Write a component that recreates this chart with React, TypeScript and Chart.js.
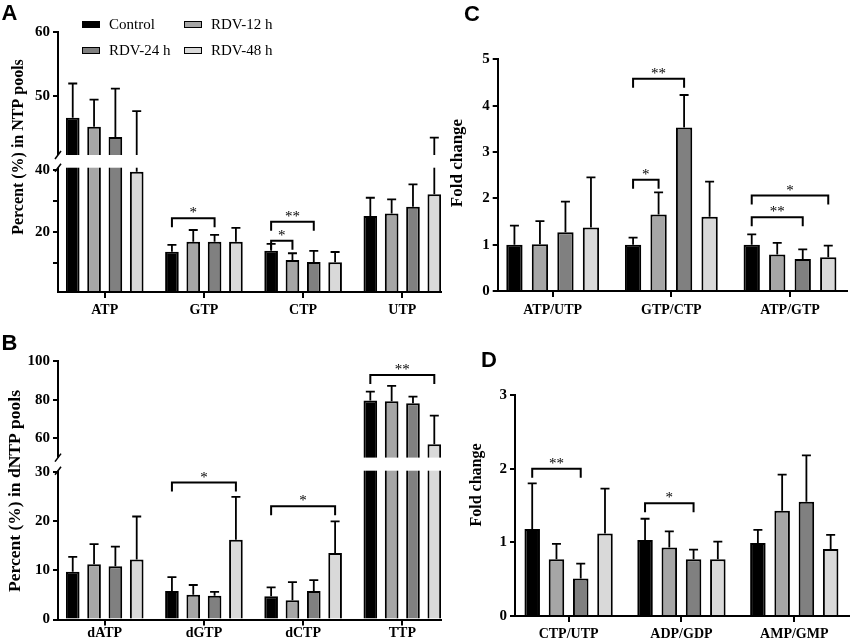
import { useEffect, useRef } from "react"
import { Chart, LinearScale, registerables } from "chart.js"

Chart.register(...registerables)

// Prism-style broken y axis: values below `low` use the lower segment,
// values above `high` the upper one, with a blank gap (px) between them
class BrokenScale extends LinearScale {
  static id = "broken"
  static defaults = LinearScale.defaults

  segs() {
    const b = (this.options as any).brk
    const usable = this.bottom - this.top - b.gap
    const lowPx = usable * b.lowFrac
    return { b, lowPx, highPx: usable - lowPx }
  }

  getPixelForValue(value: number) {
    if (value === null || value === undefined) return NaN
    const { b, lowPx, highPx } = this.segs()
    if (value <= b.low) return this.bottom - ((value - this.min) / (b.low - this.min)) * lowPx
    if (value >= b.high) return this.top + ((this.max - value) / (this.max - b.high)) * highPx
    const gapTop = this.top + highPx
    return gapTop + ((b.high - value) / (b.high - b.low)) * b.gap
  }

  getValueForPixel(pixel: number) {
    const { b, lowPx, highPx } = this.segs()
    const gapTop = this.top + highPx
    if (pixel <= gapTop) return this.max - ((pixel - this.top) / highPx) * (this.max - b.high)
    if (pixel >= this.bottom - lowPx) return this.min + ((this.bottom - pixel) / lowPx) * (b.low - this.min)
    return b.high - ((pixel - gapTop) / b.gap) * (b.high - b.low)
  }
}
Chart.register(BrokenScale)

const SERIF = '"Liberation Serif", "Times New Roman", serif'
Chart.defaults.font.family = SERIF
Chart.defaults.color = "#000"

const SERIES_NAMES = ["Control", "RDV-12 h", "RDV-24 h", "RDV-48 h"]
const SERIES_COLORS = ["#000000", "#a6a6a6", "#808080", "#d9d9d9"]

type Bracket = { cat: number; from: number; to: number; y: number; label: string }

// A - NTP pools (%)
const ntpLabels = ["ATP", "GTP", "CTP", "UTP"]
const ntpControl = [46.7, 13.7, 14.0, 25.2]
const ntp12h = [45.3, 16.9, 11.0, 26.0]
const ntp24h = [43.7, 16.9, 10.4, 28.2]
const ntp48h = [39.5, 16.9, 10.3, 32.2]
const ntpControlSd = [5.3, 2.2, 2.2, 5.9]
const ntp12hSd = [4.2, 3.8, 2.2, 4.6]
const ntp24hSd = [7.5, 2.2, 3.6, 7.2]
const ntp48hSd = [8.2, 4.5, 3.3, 11.4]
const ntpTicks = [10, 20, 30, 40, 50, 60]
const ntpTickLabels = ["", "20", "", "40", "50", "60"]
const ntpSig: Bracket[] = [
  { cat: 1, from: 0, to: 2, y: 24.5, label: "*" },
  { cat: 2, from: 0, to: 2, y: 23.4, label: "**" },
  { cat: 2, from: 0, to: 1, y: 17.2, label: "*" },
]

// B - dNTP pools (%)
const dntpLabels = ["dATP", "dGTP", "dCTP", "TTP"]
const dntpControl = [9.7, 5.8, 4.7, 79.5]
const dntp12h = [11.2, 5.0, 3.9, 79.1]
const dntp24h = [10.8, 4.8, 5.8, 78.1]
const dntp48h = [12.2, 16.2, 13.5, 56.9]
const dntpControlSd = [3.0, 2.8, 1.8, 4.6]
const dntp12hSd = [4.1, 2.0, 3.7, 8.0]
const dntp24hSd = [4.0, 0.8, 2.2, 3.5]
const dntp48hSd = [8.7, 8.7, 6.4, 14.8]
const dntpTicks = [0, 10, 20, 30, 60, 80, 100]
const dntpTickLabels = ["0", "10", "20", "30", "60", "80", "100"]
const dntpSig: Bracket[] = [
  { cat: 1, from: 0, to: 3, y: 27.8, label: "*" },
  { cat: 2, from: 0, to: 3, y: 23.0, label: "*" },
  { cat: 3, from: 0, to: 3, y: 92.8, label: "**" },
]

// C - NTP ratios (fold change)
const ratioCLabels = ["ATP/UTP", "GTP/CTP", "ATP/GTP"]
const ratioCControl = [1.0, 1.0, 1.0]
const ratioC12h = [1.01, 1.65, 0.79]
const ratioC24h = [1.27, 3.53, 0.69]
const ratioC48h = [1.37, 1.6, 0.73]
const ratioCControlSd = [0.41, 0.15, 0.22]
const ratioC12hSd = [0.5, 0.48, 0.25]
const ratioC24hSd = [0.66, 0.7, 0.21]
const ratioC48hSd = [1.08, 0.76, 0.25]
const ratioCTicks = [0, 1, 2, 3, 4, 5]
const ratioCTickLabels = ["0", "1", "2", "3", "4", "5"]
const ratioCSig: Bracket[] = [
  { cat: 1, from: 0, to: 2, y: 4.58, label: "**" },
  { cat: 1, from: 0, to: 1, y: 2.4, label: "*" },
  { cat: 2, from: 0, to: 3, y: 2.06, label: "*" },
  { cat: 2, from: 0, to: 2, y: 1.59, label: "**" },
]

// D - other ratios (fold change)
const ratioDLabels = ["CTP/UTP", "ADP/GDP", "AMP/GMP"]
const ratioDControl = [1.18, 1.03, 0.99]
const ratioD12h = [0.77, 0.93, 1.43]
const ratioD24h = [0.51, 0.77, 1.55]
const ratioD48h = [1.12, 0.77, 0.91]
const ratioDControlSd = [0.62, 0.29, 0.18]
const ratioD12hSd = [0.21, 0.22, 0.49]
const ratioD24hSd = [0.2, 0.13, 0.63]
const ratioD48hSd = [0.61, 0.24, 0.19]
const ratioDTicks = [0, 1, 2, 3]
const ratioDTickLabels = ["0", "1", "2", "3"]
const ratioDSig: Bracket[] = [
  { cat: 0, from: 0, to: 2, y: 2.0, label: "**" },
  { cat: 1, from: 0, to: 2, y: 1.53, label: "*" },
]

type PanelProps = {
  box: { left: number; top: number; width: number; height: number }
  pad: { top: number; right: number }
  yWidth: number
  xHeight: number
  xPad: number
  titleAt: { x: number; y: number; size: number }
  labels: string[]
  values: number[][]
  sds: number[][]
  xRange: [number, number]
  yRange: [number, number]
  yTicks: number[]
  yTickLabels: string[]
  yTitle: string
  brackets: Bracket[]
  brk?: { low: number; high: number; gap: number; lowFrac: number }
}

function BarPanel(p: PanelProps) {
  const canvasRef = useRef<HTMLCanvasElement>(null)
  const chartInstance = useRef<Chart | null>(null)

  useEffect(() => {
    if (!canvasRef.current) return
    if (chartInstance.current) chartInstance.current.destroy()

    // error bars (mean + SD), significance brackets, axis break, y title
    const overlay = {
      id: "overlay",
      afterDraw(chart: any) {
        const { ctx, chartArea } = chart
        const yScale = chart.scales.y
        ctx.save()
        ctx.strokeStyle = "#000"
        ctx.fillStyle = "#000"
        ctx.lineWidth = 1.8
        chart.data.datasets.forEach((ds: any, di: number) => {
          chart.getDatasetMeta(di).data.forEach((bar: any, i: number) => {
            const tip = yScale.getPixelForValue(ds.data[i].y + ds.sd[i])
            ctx.beginPath()
            ctx.moveTo(bar.x, bar.y)
            ctx.lineTo(bar.x, tip)
            ctx.moveTo(bar.x - 4.5, tip)
            ctx.lineTo(bar.x + 4.5, tip)
            ctx.stroke()
          })
        })

        ctx.lineWidth = 2
        ctx.font = `15px ${SERIF}`
        ctx.textAlign = "center"
        ctx.textBaseline = "alphabetic"
        p.brackets.forEach((b) => {
          const x1 = chart.getDatasetMeta(b.from).data[b.cat].x
          const x2 = chart.getDatasetMeta(b.to).data[b.cat].x
          const yy = yScale.getPixelForValue(b.y)
          ctx.beginPath()
          ctx.moveTo(x1, yy + 9)
          ctx.lineTo(x1, yy)
          ctx.lineTo(x2, yy)
          ctx.lineTo(x2, yy + 9)
          ctx.stroke()
          ctx.fillText(b.label, (x1 + x2) / 2, yy - 1)
        })

        if (p.brk) {
          const hi = yScale.getPixelForValue(p.brk.high)
          const lo = yScale.getPixelForValue(p.brk.low)
          ctx.fillStyle = "#fff"
          ctx.fillRect(chartArea.left - 4, hi, chartArea.right - chartArea.left + 4, lo - hi)
          ctx.fillStyle = "#000"
          ctx.lineWidth = 1.5
          ;[hi, lo].forEach((yy) => {
            ctx.beginPath()
            ctx.moveTo(chartArea.left - 3, yy + 4)
            ctx.lineTo(chartArea.left + 3, yy - 4)
            ctx.stroke()
          })
        }

        ctx.translate(p.titleAt.x - p.box.left, p.titleAt.y - p.box.top)
        ctx.rotate(-Math.PI / 2)
        ctx.font = `bold ${p.titleAt.size}px ${SERIF}`
        ctx.textAlign = "center"
        ctx.textBaseline = "middle"
        ctx.fillText(p.yTitle, 0, 0)
        ctx.restore()
      },
    }

    chartInstance.current = new Chart(canvasRef.current, {
      type: "bar",
      data: {
        datasets: p.values.map((vals, si) => ({
          label: SERIES_NAMES[si],
          data: vals.map((v, i) => ({ x: i, y: v })),
          sd: p.sds[si],
          base: p.yRange[0],
          backgroundColor: SERIES_COLORS[si],
          borderColor: "#000",
          borderWidth: 2,
          borderSkipped: "start",
          categoryPercentage: 0.86,
          barPercentage: 0.64,
        })) as any,
      },
      options: {
        responsive: true,
        maintainAspectRatio: false,
        animation: false,
        events: [],
        layout: { padding: { top: p.pad.top, right: p.pad.right, left: 0, bottom: 0 } },
        plugins: { legend: { display: false }, tooltip: { enabled: false } },
        scales: {
          x: {
            type: "linear",
            min: p.xRange[0],
            max: p.xRange[1],
            bounds: "data",
            offset: false,
            afterBuildTicks: (s: any) => {
              s.ticks = p.labels.map((_, i) => ({ value: i }))
            },
            afterFit: (s: any) => {
              s.height = p.xHeight
            },
            ticks: {
              callback: (v: any) => p.labels[v] ?? "",
              autoSkip: false,
              maxRotation: 0,
              padding: p.xPad,
              color: "#000",
              font: { size: 14, weight: "bold" },
            },
            grid: { display: true, drawOnChartArea: false, drawTicks: true, tickLength: 6, color: "#000", lineWidth: 2, offset: false },
            border: { display: true, color: "#000", width: 2, z: 1 },
          },
          y: {
            type: p.brk ? "broken" : "linear",
            min: p.yRange[0],
            max: p.yRange[1],
            bounds: "data",
            brk: p.brk,
            afterBuildTicks: (s: any) => {
              s.ticks = p.yTicks.map((v) => ({ value: v }))
            },
            afterFit: (s: any) => {
              s.width = p.yWidth
            },
            ticks: {
              callback: (_v: any, i: number) => p.yTickLabels[i],
              autoSkip: false,
              padding: 3,
              color: "#000",
              font: { size: 15, weight: "bold" },
            },
            grid: { display: true, drawOnChartArea: false, drawTicks: true, tickLength: 5, color: "#000", lineWidth: 2 },
            border: { display: true, color: "#000", width: 2, z: 1 },
          } as any,
        },
      },
      plugins: [overlay],
    })

    return () => {
      if (chartInstance.current) {
        chartInstance.current.destroy()
        chartInstance.current = null
      }
    }
  }, [])

  return (
    <div style={{ position: "absolute", ...p.box }}>
      <canvas ref={canvasRef} />
    </div>
  )
}

function Legend() {
  const cells = [
    { left: 82, top: 20.7 },
    { left: 184, top: 20.7 },
    { left: 82, top: 46.7 },
    { left: 184, top: 46.7 },
  ]
  return (
    <>
      {cells.map((c, i) => (
        <div key={i}>
          <div
            style={{
              position: "absolute",
              left: c.left,
              top: c.top,
              width: 18,
              height: 7,
              boxSizing: "border-box",
              border: "1.5px solid #000",
              background: SERIES_COLORS[i],
            }}
          />
          <div
            style={{
              position: "absolute",
              left: c.left + 27,
              top: c.top - 5.7,
              font: `15px ${SERIF}`,
              lineHeight: "18px",
              whiteSpace: "nowrap",
              color: "#000",
            }}
          >
            {SERIES_NAMES[i]}
          </div>
        </div>
      ))}
    </>
  )
}

const letterStyle = {
  position: "absolute" as const,
  font: 'bold 22px "Liberation Sans", Arial, sans-serif',
  lineHeight: "22px",
  color: "#000",
}

export default function App() {
  return (
    <div style={{ position: "fixed", left: 0, top: 0, width: 851, height: 644, background: "#fff", overflow: "hidden" }}>
      <BarPanel
        box={{ left: 0, top: 0, width: 445, height: 325 }}
        pad={{ top: 32, right: 4 }}
        yWidth={58}
        xHeight={33}
        xPad={4}
        titleAt={{ x: 19, y: 147, size: 16 }}
        labels={ntpLabels}
        values={[ntpControl, ntp12h, ntp24h, ntp48h]}
        sds={[ntpControlSd, ntp12hSd, ntp24hSd, ntp48hSd]}
        xRange={[-0.471, 3.39]}
        yRange={[0.7, 60]}
        yTicks={ntpTicks}
        yTickLabels={ntpTickLabels}
        yTitle="Percent (%) in NTP pools"
        brackets={ntpSig}
        brk={{ low: 40.8, high: 40.9, gap: 12.7, lowFrac: 0.5026 }}
      />
      <BarPanel
        box={{ left: 0, top: 330, width: 445, height: 314 }}
        pad={{ top: 31, right: 4 }}
        yWidth={58}
        xHeight={24.5}
        xPad={-1}
        titleAt={{ x: 15.5, y: 491, size: 17.5 }}
        labels={dntpLabels}
        values={[dntpControl, dntp12h, dntp24h, dntp48h]}
        sds={[dntpControlSd, dntp12hSd, dntp24hSd, dntp48hSd]}
        xRange={[-0.471, 3.39]}
        yRange={[0, 100]}
        yTicks={dntpTicks}
        yTickLabels={dntpTickLabels}
        yTitle="Percent (%) in dNTP pools"
        brackets={dntpSig}
        brk={{ low: 30.2, high: 50, gap: 13.1, lowFrac: 0.6064 }}
      />
      <BarPanel
        box={{ left: 440, top: 0, width: 411, height: 325 }}
        pad={{ top: 59.3, right: 4.3 }}
        yWidth={57.7}
        xHeight={34}
        xPad={5}
        titleAt={{ x: 458, y: 163, size: 17 }}
        labels={ratioCLabels}
        values={[ratioCControl, ratioC12h, ratioC24h, ratioC48h]}
        sds={[ratioCControlSd, ratioC12hSd, ratioC24hSd, ratioC48hSd]}
        xRange={[-0.4635, 2.478]}
        yRange={[0, 5]}
        yTicks={ratioCTicks}
        yTickLabels={ratioCTickLabels}
        yTitle="Fold change"
        brackets={ratioCSig}
      />
      <BarPanel
        box={{ left: 440, top: 330, width: 411, height: 314 }}
        pad={{ top: 65, right: 2 }}
        yWidth={75}
        xHeight={28}
        xPad={4}
        titleAt={{ x: 477, y: 485, size: 16 }}
        labels={ratioDLabels}
        values={[ratioDControl, ratioD12h, ratioD24h, ratioD48h]}
        sds={[ratioDControlSd, ratioD12hSd, ratioD24hSd, ratioD48hSd]}
        xRange={[-0.475, 2.485]}
        yRange={[0, 3]}
        yTicks={ratioDTicks}
        yTickLabels={ratioDTickLabels}
        yTitle="Fold change"
        brackets={ratioDSig}
      />
      <Legend />
      <div style={{ ...letterStyle, left: 1.5, top: 2 }}>A</div>
      <div style={{ ...letterStyle, left: 1.5, top: 332 }}>B</div>
      <div style={{ ...letterStyle, left: 464, top: 3 }}>C</div>
      <div style={{ ...letterStyle, left: 481, top: 349 }}>D</div>
    </div>
  )
}
